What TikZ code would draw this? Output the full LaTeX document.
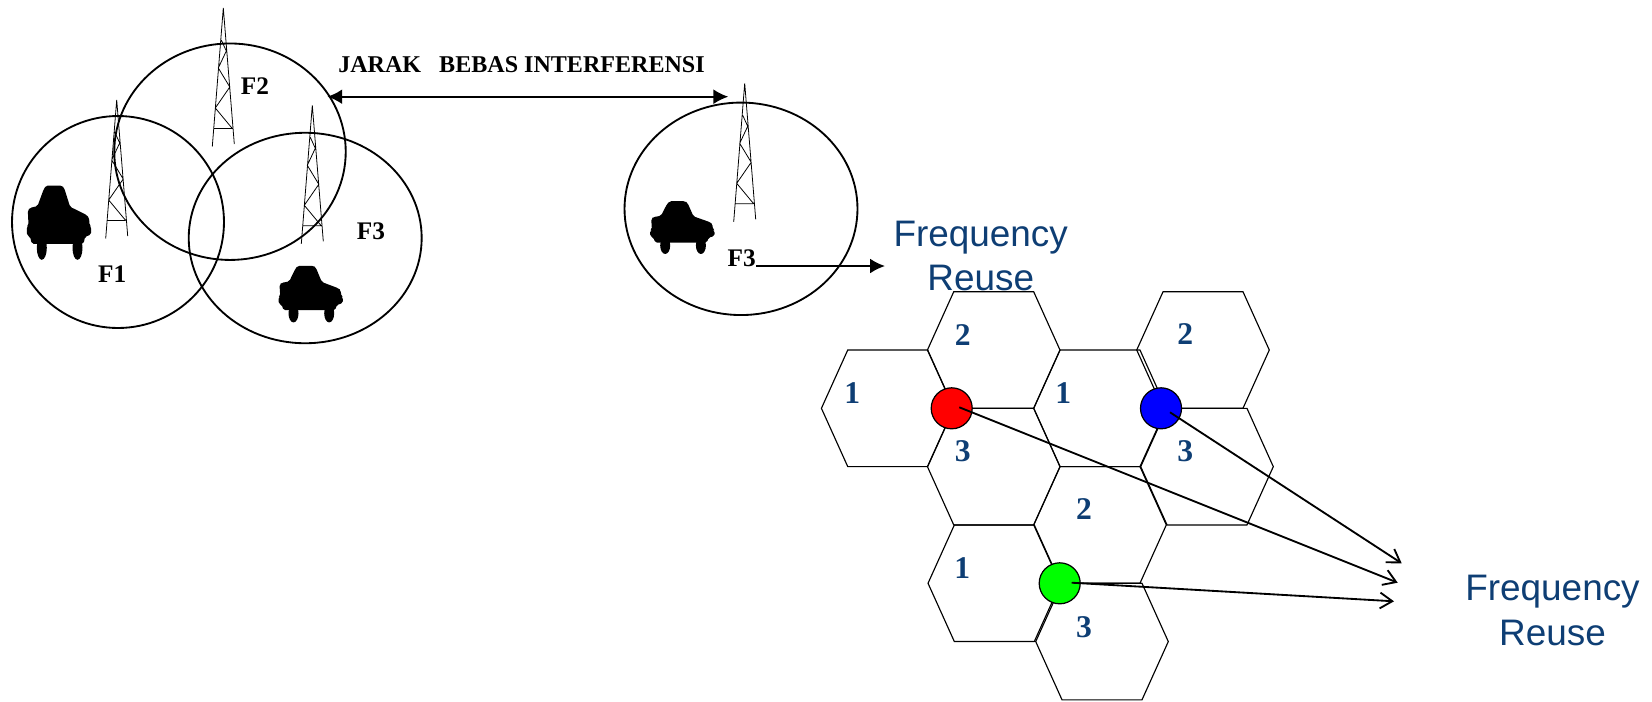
\documentclass[tikz,border=0pt]{standalone}
\usepackage{fontspec}
\setmainfont{Liberation Serif}
\setsansfont{Liberation Sans}
\usepackage{xcolor}
\usepackage{tikz}
\usetikzlibrary{shapes,shapes.symbols,arrows.meta}
\definecolor{reuseblue}{HTML}{0E3E74}
\tikzstyle{cell} = [ellipse, draw, line width=1.05pt, inner sep=0pt]
\tikzstyle{hexcell} = [signal, signal from=nowhere, signal to=west and east, signal pointer angle=131.4,
    draw, line width=0.65pt, inner sep=0pt,
    minimum width=2.652cm, minimum height=2.332cm, node distance=2.333cm]
\tikzstyle{dot} = [circle, draw, line width=0.7pt, minimum size=0.82cm, inner sep=0pt]
\tikzstyle{freqlabel} = [inner sep=0pt, font=\bfseries\fontsize{14.4}{16}\selectfont]
\tikzstyle{cellnum} = [inner sep=0pt, text=reuseblue, font=\bfseries\fontsize{18}{20}\selectfont]
\tikzstyle{reuse} = [inner sep=0pt, align=center, text=reuseblue, font=\sffamily\fontsize{21}{25.5}\selectfont]
\tikzstyle{arrow} = [draw, -{Latex[length=8.5pt,width=8.5pt]}, line width=1.1pt]
\tikzstyle{doublearrow} = [draw, {Latex[length=8.5pt,width=8.5pt]}-{Latex[length=8.5pt,width=8.5pt]}, line width=1.1pt]
\tikzstyle{openarrow} = [draw, -{Straight Barb[length=7pt,width=9pt]}, line width=1.05pt]
\tikzset{
  tower/.pic={
    \draw [line width=0.45pt] (0,0) -- (-11,138.5) (0,0) -- (11,136)
      (-9,120.5) -- (9,120.5)
      (-2,32) -- (3,43) -- (-5,60) -- (6.5,79) -- (-8,100) -- (9,120.5);
  },
  carsign/.pic={
    \fill [rounded corners=1pt] (-15.3,-33) -- (-12.7,-37.3) -- (3,-37.3) -- (5.3,-35)
      -- (11.3,-16) -- (28,-7.7) -- (30.3,-5) -- (30.7,2.3) -- (32.3,4) -- (32.3,11.7)
      -- (26.3,14) -- (24.7,21) -- (-27,21) -- (-28.7,14) -- (-32,12.3) -- (-32,4)
      -- (-30.3,2.3) -- (-31,-12.7) -- (-28.7,-15) -- (-21.3,-16.7) -- cycle;
    \fill (-17,25) ellipse [x radius=5, y radius=12];
    \fill (18.7,25) ellipse [x radius=5, y radius=12];
  }
}
\begin{document}
\begin{tikzpicture}[x=0.02cm, y=-0.02cm]
    \useasboundingbox (0,0) rectangle (1652,701);
    % Place cells
    \node [cell, minimum width=4.24cm, minimum height=4.24cm] (cellOne) at (118,222) {};
    \node [cell, minimum width=4.63cm, minimum height=4.33cm] (cellTwo) at (230,151.7) {};
    \node [cell, minimum width=4.66cm, minimum height=4.21cm] (cellThree) at (305.2,238) {};
    \node [cell, minimum width=4.66cm, minimum height=4.25cm] (cellFar) at (741,208.8) {};
    % Towers and cars
    \pic (towerOne) at (116.7,100) {tower};
    \pic (towerTwo) at (223.3,8) {tower};
    \pic (towerThree) at (312.3,105.3) {tower};
    \pic (towerFar) at (744.7,83.3) {tower};
    \pic (carOne) at (58.8,222.8) {carsign};
    \pic [yscale=0.763] (carThree) at (310.5,294.2) {carsign};
    \pic [yscale=0.71] (carFar) at (682.2,227.7) {carsign};
    \node [freqlabel] (labelOne) at (112.3,274) {F1};
    \node [freqlabel] (labelTwo) at (255,86) {F2};
    \node [freqlabel] (labelThree) at (371,231) {F3};
    \node [freqlabel] (labelFar) at (741.7,258) {F3};
    \node [freqlabel, font=\bfseries\fontsize{13.7}{16}\selectfont] (jarak) at (521.5,64.5) {JARAK\hspace{0.75em}BEBAS INTERFERENSI};
    \coordinate (jarakLeft) at (327.3,96.7);
    \coordinate (jarakRight) at (728.3,96.7);
    \coordinate (farExit) at (885,266);
    \path [doublearrow] (jarakLeft) -- (jarakRight);
    \path [arrow] (labelFar.east |- farExit) -- (farExit);
    \node [reuse] (reuseLeft) at (980.7,256) {Frequency\\Reuse};
    % Hexagons
    \node [hexcell] (hexLeft) at (887.7,408.3) {};
    \node [hexcell] (hexTwoA) at (993.7,350) {};
    \node [hexcell, below of=hexTwoA] (hexThreeA) {};
    \node [hexcell, below of=hexThreeA, xshift=0.012cm] (hexOneB) {};
    \node [hexcell] (hexOneA) at (1100,408.3) {};
    \node [hexcell, below of=hexOneA] (hexTwoB) {};
    \node [hexcell, below of=hexTwoB, xshift=0.04cm] (hexThreeB) {};
    \node [hexcell] (hexTwoC) at (1203,350) {};
    \node [hexcell, below of=hexTwoC, xshift=0.08cm] (hexThreeC) {};
    \node [cellnum] (numA) at (852.3,393.3) {1};
    \node [cellnum] (numB) at (962.7,335) {2};
    \node [cellnum] (numC) at (962.7,450.7) {3};
    \node [cellnum] (numD) at (1063.3,393.3) {1};
    \node [cellnum] (numE) at (1185.3,334.3) {2};
    \node [cellnum] (numF) at (1185.3,451) {3};
    \node [cellnum] (numG) at (1084,509.3) {2};
    \node [cellnum] (numH) at (962.3,568.3) {1};
    \node [cellnum] (numI) at (1084,626.7) {3};
    \node [dot, fill=red] (redDot) at (951.7,408.3) {};
    \node [dot, fill=blue] (blueDot) at (1161,408.3) {};
    \node [dot, fill=green] (greenDot) at (1059.7,583.3) {};
    \node [reuse] (reuseRight) at (1552.5,610.5) {Frequency\\Reuse};
    \coordinate (redStart) at (959.3,407.3);
    \coordinate (blueStart) at (1170,412.3);
    \coordinate (greenStart) at (1071.7,582.7);
    \coordinate (blueEnd) at (1401.7,563.3);
    \coordinate (redEnd) at (1397.7,582.7);
    \coordinate (greenEnd) at (1394,601.3);
    \path [openarrow] (redStart) -- (redEnd);
    \path [openarrow] (blueStart) -- (blueEnd);
    \path [openarrow] (greenStart) -- (greenEnd);
\end{tikzpicture}
\end{document}
